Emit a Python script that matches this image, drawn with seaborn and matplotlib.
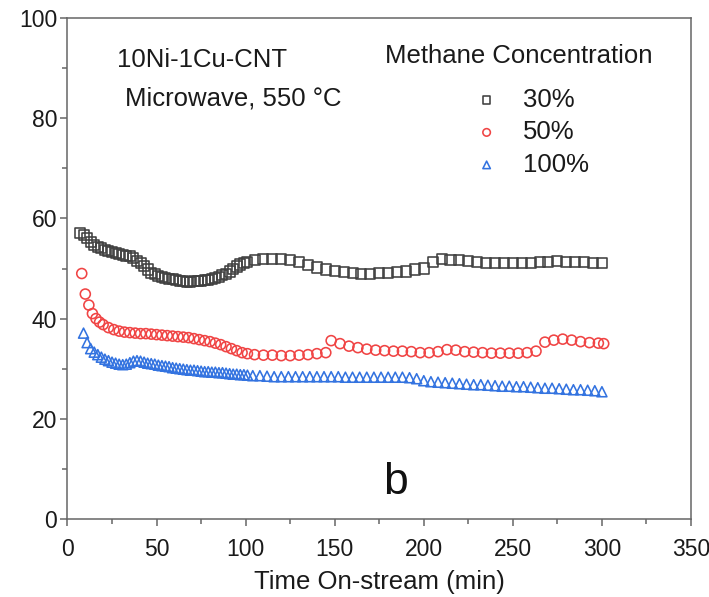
import matplotlib
matplotlib.use("Agg")
import matplotlib.pyplot as plt
from matplotlib.ticker import MultipleLocator
import numpy as np
import pandas as pd
import seaborn as sns

# Methane conversion over time on stream, 10Ni-1Cu-CNT catalyst, microwave heating at 550 °C
time_30 = [7, 9, 11, 13, 15, 17, 19, 21, 23, 25, 27, 29, 31, 33, 35, 37, 39, 41, 43, 45,
           47, 49, 51, 53, 55, 57, 59, 61, 63, 65, 67, 69, 71, 73, 75, 77, 79, 81, 83, 85,
           87, 89, 91, 93, 95, 97, 99, 101,
           105, 110, 115, 120, 125, 130, 135, 140, 145, 150, 155, 160, 165, 170, 175, 180,
           185, 190, 195, 200, 205, 210, 215, 220, 225, 230, 235, 240, 245, 250, 255, 260,
           265, 270, 275, 280, 285, 290, 295, 300]
conv_30 = [57.0, 56.6, 56.0, 55.2, 54.6, 54.3, 54.0, 53.6, 53.4, 53.2, 53.0, 52.8, 52.6, 52.5,
           52.4, 52.0, 51.5, 51.0, 50.5, 49.8, 49.2, 48.9, 48.6, 48.4, 48.2, 48.0, 47.9, 47.8,
           47.6, 47.5, 47.4, 47.4, 47.5, 47.5, 47.6, 47.7, 47.8, 48.0, 48.2, 48.4, 48.7, 49.0,
           49.4, 49.9, 50.4, 50.8, 51.0, 51.3,
           51.6, 51.8, 51.9, 51.8, 51.6, 51.2, 50.7, 50.2, 49.8, 49.5, 49.3, 49.1, 49.0, 49.0,
           49.1, 49.2, 49.3, 49.4, 49.8, 50.0, 51.2, 51.8, 51.7, 51.6, 51.4, 51.2, 51.0, 51.0,
           51.0, 51.0, 51.0, 51.1, 51.2, 51.3, 51.4, 51.3, 51.3, 51.2, 51.1, 51.0]

time_50 = [8, 10, 12, 14, 16, 18, 20, 23, 26, 29, 32, 35, 38, 41, 44, 47, 50, 53, 56, 59,
           62, 65, 68, 71, 74, 77, 80, 83, 86, 89, 92, 95, 98, 101,
           105, 110, 115, 120, 125, 130, 135, 140, 145, 148, 153, 158, 163, 168, 173, 178,
           183, 188, 193, 198, 203, 208, 213, 218, 223, 228, 233, 238, 243, 248, 253, 258,
           263, 268, 273, 278, 283, 288, 293, 298, 301]
conv_50 = [49.0, 44.9, 42.7, 41.0, 40.0, 39.3, 38.8, 38.2, 37.8, 37.5, 37.3, 37.2, 37.1, 37.0,
           37.0, 36.9, 36.8, 36.7, 36.6, 36.5, 36.4, 36.3, 36.2, 36.0, 35.8, 35.6, 35.4, 35.1,
           34.8, 34.4, 34.0, 33.6, 33.2, 33.0,
           32.8, 32.7, 32.7, 32.6, 32.6, 32.7, 32.8, 33.0, 33.2, 35.6, 35.0, 34.5, 34.2, 33.9,
           33.7, 33.6, 33.5, 33.5, 33.4, 33.2, 33.2, 33.4, 33.8, 33.7, 33.4, 33.3, 33.2, 33.1,
           33.1, 33.1, 33.1, 33.2, 33.5, 35.3, 35.7, 35.9, 35.7, 35.4, 35.2, 35.1, 35.0]

time_100 = [9, 11, 13, 15, 17, 19, 21, 23, 25, 27, 29, 31, 33, 35, 37, 39, 41, 43, 45, 47,
            49, 51, 53, 55, 57, 59, 61, 63, 65, 67, 69, 71, 73, 75, 77, 79, 81, 83, 85, 87,
            89, 91, 93, 95, 97, 99, 101,
            104, 108, 112, 116, 120, 124, 128, 132, 136, 140, 144, 148, 152, 156, 160, 164,
            168, 172, 176, 180, 184, 188, 192, 196, 200, 204, 208, 212, 216, 220, 224, 228,
            232, 236, 240, 244, 248, 252, 256, 260, 264, 268, 272, 276, 280, 284, 288, 292,
            296, 300]
conv_100 = [37.1, 35.2, 34.0, 33.3, 32.8, 32.3, 31.9, 31.6, 31.3, 31.1, 30.9, 30.8, 30.9, 31.2,
            31.5, 31.6, 31.5, 31.3, 31.1, 31.0, 30.9, 30.7, 30.6, 30.5, 30.4, 30.2, 30.1, 30.0,
            29.9, 29.8, 29.7, 29.7, 29.6, 29.5, 29.4, 29.4, 29.3, 29.3, 29.2, 29.2, 29.1, 29.0,
            28.9, 28.9, 28.8, 28.8, 28.7,
            28.6, 28.6, 28.5, 28.4, 28.4, 28.4, 28.4, 28.4, 28.4, 28.4, 28.4, 28.4, 28.4, 28.3,
            28.3, 28.3, 28.3, 28.3, 28.3, 28.3, 28.3, 28.3, 28.2, 28.0, 27.6, 27.4, 27.3, 27.2,
            27.1, 27.0, 26.9, 26.8, 26.8, 26.7, 26.6, 26.5, 26.5, 26.4, 26.4, 26.3, 26.2, 26.1,
            26.1, 26.0, 25.9, 25.8, 25.8, 25.7, 25.6, 25.4]

labels = ["30%", "50%", "100%"]
series = [(time_30, conv_30), (time_50, conv_50), (time_100, conv_100)]
markers = ["s", "o", "^"]
colors = ["#404040", "#f04444", "#3373e0"]

sns.set_theme(style="ticks")
plt.rcParams["font.family"] = ["Liberation Sans", "DejaVu Sans"]

fig = plt.figure(figsize=(7.09, 5.97), dpi=100)
ax = fig.add_axes([0.0952, 0.1307, 0.8794, 0.8391])

for (t, c), lab, mk, col in zip(series, labels, markers, colors):
    df = pd.DataFrame({"time": t, "conv": c})
    sns.scatterplot(data=df, x="time", y="conv", marker=mk, s=52,
                    facecolor="none", edgecolor=col, linewidth=1.15,
                    label=lab, ax=ax, zorder=3)

ax.set_xlim(0, 350)
ax.set_ylim(0, 100)
ax.xaxis.set_major_locator(MultipleLocator(50))
ax.xaxis.set_minor_locator(MultipleLocator(25))
ax.yaxis.set_major_locator(MultipleLocator(20))
ax.yaxis.set_minor_locator(MultipleLocator(10))

spine_col = "#666666"
text_col = "#1a1a1a"
for side in ["left", "bottom", "top", "right"]:
    ax.spines[side].set_visible(True)
    ax.spines[side].set_color(spine_col)
    ax.spines[side].set_linewidth(1.1)
ax.tick_params(which="major", direction="out", length=5, width=1.1, color=spine_col,
               labelsize=16.5, labelcolor=text_col, top=False, right=False)
ax.tick_params(which="minor", direction="out", length=3.5, width=1.1, color=spine_col,
               top=False, right=False)
ax.tick_params(axis="x", which="major", pad=9)
ax.tick_params(axis="y", which="major", pad=2.5)

ax.set_xlabel("Time On-stream (min)", fontsize=18.5, color=text_col, labelpad=6.5)
ax.set_ylabel("")

ax.text(0.0797, 0.903, "10Ni-1Cu-CNT", transform=ax.transAxes, fontsize=18.5,
        ha="left", va="baseline", color=text_col)
ax.text(0.0925, 0.826, "Microwave, 550 °C", transform=ax.transAxes, fontsize=18.5,
        ha="left", va="baseline", color=text_col)
ax.text(0.5265, 0.05, "b", transform=ax.transAxes, fontsize=32,
        ha="center", va="baseline", color="#111111")

# legend heading drawn as text so the entries can sit a bit lower beneath it
ax.text(0.509, 0.9096, "Methane Concentration", transform=ax.transAxes, fontsize=18.5,
        ha="left", va="baseline", color=text_col)
leg = ax.legend(frameon=False, fontsize=18.5, markerscale=0.75, handletextpad=0.4,
                labelspacing=0.33, loc="upper left", bbox_to_anchor=(0.631, 0.861),
                borderaxespad=0.0, borderpad=0.0)
for txt in leg.get_texts():
    txt.set_color(text_col)

fig.savefig("out.png", dpi=100)
